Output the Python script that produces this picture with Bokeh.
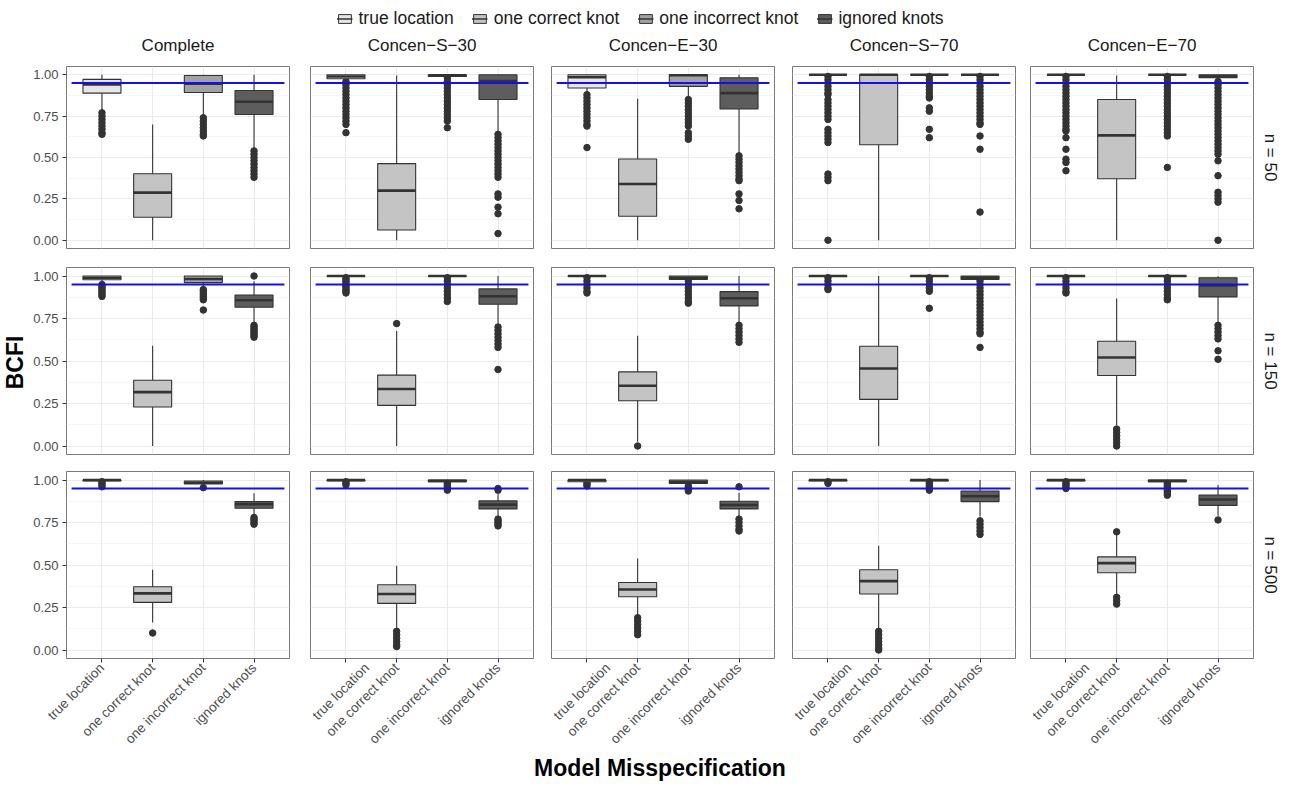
import math
from bokeh.plotting import figure
from bokeh.models import (FactorRange, Range1d, LinearAxis, CategoricalAxis, FixedTicker,
                          CategoricalTicker, Grid, Label, Legend, LegendItem,
                          ColumnDataSource, PrintfTickFormatter)
from bokeh.layouts import column, row
from bokeh.transform import dodge
from bokeh.embed import file_html
from bokeh.resources import INLINE

# ---------------------------------------------------------------- data
CATEGORIES = ["true location", "one correct knot", "one incorrect knot", "ignored knots"]
SCENARIOS = ["Complete", "Concen\u2212S\u221230", "Concen\u2212E\u221230",
             "Concen\u2212S\u221270", "Concen\u2212E\u221270"]
SAMPLE_SIZES = ["n = 50", "n = 150", "n = 500"]
Y_TICKS = [0.0, 0.25, 0.5, 0.75, 1.0]
Y_MINOR = [0.125, 0.375, 0.625, 0.875]
THRESHOLD = 0.95
FILLS = ["#E6E6E6", "#C4C4C4", "#A2A2A2", "#5D5D5D"]

# rows: scenarios (Complete, S-30, E-30, S-70, E-70); columns: categories
LOWER_N50 = [[0.78, 0.00, 0.755, 0.553], [0.965, 0.00, 0.985, 0.654], [0.885, 0.00, 0.855, 0.519],
             [1.00, 0.00, 1.00, 1.00], [1.00, 0.00, 1.00, 0.965]]
Q1_N50 = [[0.889, 0.139, 0.893, 0.760], [0.976, 0.062, 0.990, 0.851], [0.920, 0.145, 0.930, 0.793],
          [1.00, 0.577, 1.00, 1.00], [1.00, 0.372, 1.00, 0.982]]
MED_N50 = [[0.942, 0.288, 0.946, 0.837], [0.990, 0.300, 0.997, 0.962], [0.986, 0.340, 0.997, 0.889],
           [1.00, 1.00, 1.00, 1.00], [1.00, 0.634, 1.00, 0.990]]
Q3_N50 = [[0.972, 0.402, 0.996, 0.905], [1.00, 0.463, 1.00, 1.00], [1.00, 0.491, 1.00, 0.982],
          [1.00, 1.00, 1.00, 1.00], [1.00, 0.851, 1.00, 1.00]]
UPPER_N50 = [[1.00, 0.70, 1.00, 1.00], [1.00, 0.996, 1.00, 1.00], [1.00, 0.855, 1.00, 1.00],
             [1.00, 1.00, 1.00, 1.00], [1.00, 0.996, 1.00, 1.00]]

LOWER_N150 = [[0.959, 0.00, 0.926, 0.72], [1.00, 0.00, 1.00, 0.71], [1.00, 0.025, 0.975, 0.724],
              [1.00, 0.00, 1.00, 0.978], [1.00, 0.123, 1.00, 0.72]]
Q1_N150 = [[0.978, 0.229, 0.961, 0.816], [0.998, 0.239, 0.998, 0.834], [0.998, 0.266, 0.980, 0.824],
           [0.998, 0.274, 0.998, 0.980], [0.998, 0.415, 0.998, 0.877]]
MED_N150 = [[0.990, 0.317, 0.982, 0.857], [1.00, 0.335, 1.00, 0.881], [1.00, 0.354, 0.990, 0.869],
            [1.00, 0.456, 1.00, 0.990], [1.00, 0.521, 1.00, 0.945]]
Q3_N150 = [[1.00, 0.387, 1.00, 0.888], [1.00, 0.417, 1.00, 0.924], [1.00, 0.436, 1.00, 0.908],
           [1.00, 0.587, 1.00, 1.00], [1.00, 0.616, 1.00, 0.990]]
UPPER_N150 = [[1.00, 0.589, 1.00, 0.969], [1.00, 0.677, 1.00, 1.00], [1.00, 0.648, 1.00, 1.00],
              [1.00, 1.00, 1.00, 1.00], [1.00, 0.867, 1.00, 0.998]]

LOWER_N500 = [[0.995, 0.162, 0.959, 0.789], [0.995, 0.123, 0.988, 0.779], [0.990, 0.200, 0.975, 0.779],
              [0.995, 0.123, 0.995, 0.785], [0.995, 0.319, 0.985, 0.789]]
Q1_N500 = [[0.995, 0.280, 0.977, 0.834], [0.995, 0.274, 0.990, 0.830], [0.990, 0.313, 0.980, 0.830],
           [0.995, 0.329, 0.995, 0.873], [0.995, 0.454, 0.990, 0.851]]
MED_N500 = [[1.00, 0.333, 0.984, 0.857], [1.00, 0.329, 0.995, 0.855], [1.00, 0.356, 0.990, 0.853],
            [1.00, 0.405, 1.00, 0.904], [1.00, 0.511, 0.995, 0.885]]
Q3_N500 = [[1.00, 0.372, 0.994, 0.873], [1.00, 0.384, 1.00, 0.877], [1.00, 0.397, 1.00, 0.875],
           [1.00, 0.472, 1.00, 0.935], [1.00, 0.548, 1.00, 0.912]]
UPPER_N500 = [[1.00, 0.472, 1.00, 0.922], [1.00, 0.495, 1.00, 0.916], [1.00, 0.538, 1.00, 0.925],
              [1.00, 0.613, 1.00, 1.00], [1.00, 0.681, 1.00, 0.971]]

OUT_N50 = [
    [[0.77, 0.75, 0.73, 0.71, 0.69, 0.67, 0.65, 0.64], [],
     [0.74, 0.72, 0.70, 0.68, 0.66, 0.64, 0.63],
     [0.54, 0.52, 0.50, 0.48, 0.46, 0.44, 0.42, 0.40, 0.38]],
    [[0.96, 0.94, 0.92, 0.90, 0.88, 0.86, 0.84, 0.82, 0.80, 0.78, 0.76, 0.74, 0.72, 0.70, 0.65], [],
     [0.98, 0.96, 0.94, 0.92, 0.90, 0.88, 0.86, 0.84, 0.82, 0.80, 0.78, 0.76, 0.74, 0.72, 0.68],
     [0.64, 0.62, 0.60, 0.58, 0.56, 0.54, 0.52, 0.50, 0.48, 0.46, 0.44, 0.42, 0.40, 0.38,
      0.28, 0.26, 0.20, 0.16, 0.04]],
    [[0.88, 0.86, 0.84, 0.82, 0.80, 0.78, 0.76, 0.74, 0.72, 0.70, 0.69, 0.56], [],
     [0.85, 0.83, 0.81, 0.79, 0.77, 0.75, 0.73, 0.71, 0.69, 0.65, 0.63, 0.61],
     [0.51, 0.49, 0.47, 0.45, 0.43, 0.41, 0.39, 0.37, 0.36, 0.28, 0.24, 0.19]],
    [[0.99, 0.97, 0.95, 0.93, 0.91, 0.89, 0.88, 0.85, 0.83, 0.81, 0.79, 0.77, 0.75, 0.73,
      0.67, 0.65, 0.63, 0.61, 0.59, 0.40, 0.38, 0.36, 0.0], [],
     [0.99, 0.97, 0.95, 0.93, 0.91, 0.89, 0.87, 0.86, 0.80, 0.78, 0.67, 0.62],
     [0.99, 0.97, 0.95, 0.93, 0.91, 0.89, 0.87, 0.85, 0.83, 0.81, 0.79, 0.77, 0.75, 0.73,
      0.71, 0.70, 0.63, 0.55, 0.17]],
    [[0.99, 0.97, 0.95, 0.93, 0.91, 0.89, 0.87, 0.85, 0.83, 0.81, 0.79, 0.77, 0.75, 0.73,
      0.71, 0.69, 0.67, 0.66, 0.62, 0.55, 0.49, 0.47, 0.42], [],
     [0.99, 0.97, 0.95, 0.93, 0.91, 0.89, 0.87, 0.85, 0.83, 0.81, 0.79, 0.77, 0.75, 0.73,
      0.71, 0.69, 0.67, 0.65, 0.63, 0.44],
     [0.96, 0.94, 0.92, 0.90, 0.88, 0.86, 0.84, 0.82, 0.80, 0.78, 0.76, 0.74, 0.72, 0.70,
      0.68, 0.66, 0.64, 0.62, 0.60, 0.58, 0.56, 0.54, 0.52, 0.48, 0.39, 0.29, 0.27, 0.25, 0.23, 0.0]],
]
OUT_N150 = [
    [[0.95, 0.94, 0.93, 0.92, 0.91, 0.90, 0.89, 0.88], [],
     [0.92, 0.91, 0.90, 0.89, 0.88, 0.87, 0.86, 0.80],
     [1.00, 0.71, 0.70, 0.69, 0.68, 0.67, 0.66, 0.65, 0.64]],
    [[0.99, 0.98, 0.97, 0.96, 0.95, 0.94, 0.93, 0.92, 0.91, 0.90], [0.72],
     [0.99, 0.97, 0.95, 0.93, 0.91, 0.89, 0.87, 0.85],
     [0.70, 0.68, 0.66, 0.64, 0.62, 0.60, 0.58, 0.45]],
    [[0.99, 0.97, 0.95, 0.93, 0.91, 0.90], [0.0],
     [0.97, 0.95, 0.93, 0.91, 0.89, 0.87, 0.85, 0.84],
     [0.71, 0.69, 0.67, 0.65, 0.63, 0.61]],
    [[0.99, 0.97, 0.95, 0.93, 0.92], [],
     [0.99, 0.97, 0.95, 0.93, 0.91, 0.81],
     [0.97, 0.95, 0.93, 0.91, 0.89, 0.87, 0.85, 0.83, 0.81, 0.79, 0.77, 0.75, 0.73, 0.71,
      0.69, 0.67, 0.66, 0.58]],
    [[0.99, 0.97, 0.95, 0.93, 0.91, 0.90], [0.10, 0.08, 0.06, 0.04, 0.02, 0.0],
     [0.99, 0.97, 0.95, 0.93, 0.91, 0.89, 0.87, 0.86],
     [0.71, 0.69, 0.67, 0.65, 0.63, 0.56, 0.51]],
]
OUT_N500 = [
    [[0.99, 0.98, 0.97, 0.96], [0.10], [0.955], [0.78, 0.77, 0.76, 0.75, 0.74]],
    [[0.99, 0.98, 0.97], [0.11, 0.09, 0.07, 0.05, 0.03, 0.02],
     [0.98, 0.97, 0.96, 0.95, 0.94], [0.95, 0.94, 0.77, 0.76, 0.75, 0.74, 0.73]],
    [[0.985, 0.975, 0.965], [0.19, 0.17, 0.15, 0.13, 0.11, 0.09],
     [0.965, 0.955, 0.945, 0.935], [0.96, 0.77, 0.75, 0.73, 0.71, 0.70]],
    [[0.99, 0.98], [0.11, 0.09, 0.07, 0.05, 0.03, 0.01, 0.0],
     [0.99, 0.98, 0.97, 0.96, 0.95, 0.94], [0.76, 0.74, 0.72, 0.70, 0.68]],
    [[0.99, 0.98, 0.97, 0.96, 0.95], [0.695, 0.31, 0.29, 0.27],
     [0.98, 0.97, 0.96, 0.95, 0.94, 0.93, 0.92, 0.91], [0.765]],
]

LOWER = [LOWER_N50, LOWER_N150, LOWER_N500]
Q1 = [Q1_N50, Q1_N150, Q1_N500]
MED = [MED_N50, MED_N150, MED_N500]
Q3 = [Q3_N50, Q3_N150, Q3_N500]
UPPER = [UPPER_N50, UPPER_N150, UPPER_N500]
OUTLIERS = [OUT_N50, OUT_N150, OUT_N500]

# ---------------------------------------------------------------- layout / style
FONT = "Liberation Sans"
LINE = "#333333"
BLUE = "#1010F0"
TOTAL_W = 1280
YLAB_W = 26
FRAME_W = 223
LEFT = [40, 1, 1, 1, 1]
RIGHT = [20, 17, 17, 14, 1]
FIG_W = [LEFT[i] + FRAME_W + RIGHT[i] for i in range(5)]
STRIP_W = TOTAL_W - YLAB_W - sum(FIG_W)
FRAME_H = [182, 187, 187]
TOP = [2, 1, 1]
BOTTOM = [18, 16, 96]
ROW_H = [TOP[i] + FRAME_H[i] + BOTTOM[i] for i in range(3)]
HEADER_H = 64
FOOTER_H = 781 - HEADER_H - sum(ROW_H)
BOX_W = 0.75
Y_RANGE = (-0.05, 1.05)
HALF_PAD = 0.6  # ggplot discrete expansion on each side

frame_left = []
acc = YLAB_W
for i in range(5):
    frame_left.append(acc + LEFT[i])
    acc += FIG_W[i]
frame_center = [fl + FRAME_W / 2 for fl in frame_left]


def bare(width, height, x_range, y_range, **kw):
    p = figure(width=width, height=height, x_range=x_range, y_range=y_range,
               x_axis_location=None, y_axis_location=None, toolbar_location=None,
               tools="", output_backend="svg", outline_line_color=None, **kw)
    p.center = []
    return p


def make_panel(r, c):
    p = figure(width=FIG_W[c], height=ROW_H[r],
               x_range=FactorRange(factors=CATEGORIES, range_padding=2 * (HALF_PAD - 0.5),
                                   range_padding_units="absolute"),
               y_range=Range1d(*Y_RANGE), x_axis_location=None, y_axis_location=None,
               toolbar_location=None, tools="", output_backend="svg",
               min_border_left=LEFT[c], min_border_right=RIGHT[c],
               min_border_top=TOP[r], min_border_bottom=BOTTOM[r])
    p.center = []
    p.outline_line_color = "#7A7A7A"
    p.outline_line_width = 1

    p.add_layout(Grid(dimension=1, ticker=FixedTicker(ticks=Y_TICKS, minor_ticks=Y_MINOR),
                      grid_line_color="#EBEBEB", grid_line_width=1.1,
                      minor_grid_line_color="#F4F4F4", minor_grid_line_width=0.8))
    p.add_layout(Grid(dimension=0, ticker=CategoricalTicker(),
                      grid_line_color="#EBEBEB", grid_line_width=1.1))

    if c == 0:
        ya = LinearAxis(ticker=FixedTicker(ticks=Y_TICKS),
                        formatter=PrintfTickFormatter(format="%.2f"),
                        major_tick_in=0, major_tick_out=4, minor_tick_line_color=None,
                        axis_line_color=None, major_tick_line_color=LINE,
                        major_label_text_font=FONT, major_label_text_font_size="13px",
                        major_label_text_color="#4D4D4D", major_label_standoff=4)
        p.add_layout(ya, "left")

    if r == 2:
        xa = CategoricalAxis(major_label_orientation=math.pi / 4,
                             major_tick_in=0, major_tick_out=4, axis_line_color=None,
                             major_tick_line_color=LINE, major_label_text_font=FONT,
                             major_label_text_font_size="13.5px",
                             major_label_text_color="#4D4D4D", major_label_standoff=3)
        p.add_layout(xa, "below")

    box = ColumnDataSource(dict(cat=CATEGORIES, lo=LOWER[r][c], q1=Q1[r][c], med=MED[r][c],
                                q3=Q3[r][c], hi=UPPER[r][c], fill=FILLS))
    ox, oy = [], []
    for cat, outs in zip(CATEGORIES, OUTLIERS[r][c]):
        ox += [cat] * len(outs)
        oy += outs
    out = ColumnDataSource(dict(cat=ox, y=oy))

    p.scatter(x="cat", y="y", source=out, size=6.5, fill_color=LINE, line_color=LINE)
    p.segment(x0="cat", x1="cat", y0="lo", y1="hi", source=box, line_color=LINE, line_width=1.1)
    p.vbar(x="cat", top="q3", bottom="q1", width=BOX_W, source=box, fill_color="fill",
           line_color=LINE, line_width=1.1)
    p.segment(x0=dodge("cat", -BOX_W / 2, range=p.x_range),
              x1=dodge("cat", BOX_W / 2, range=p.x_range),
              y0="med", y1="med", source=box, line_color=LINE, line_width=2.6)
    ref = ColumnDataSource(dict(a=[CATEGORIES[0]], b=[CATEGORIES[-1]], y=[THRESHOLD]))
    p.segment(x0=dodge("a", -HALF_PAD, range=p.x_range), x1=dodge("b", HALF_PAD, range=p.x_range),
              y0="y", y1="y", source=ref, line_color=BLUE, line_width=2.0, level="overlay")
    return p


def make_strip(r):
    p = bare(STRIP_W, ROW_H[r], Range1d(0, STRIP_W), Range1d(*Y_RANGE),
             min_border_left=0, min_border_right=0,
             min_border_top=TOP[r], min_border_bottom=BOTTOM[r])
    p.add_layout(Label(x=STRIP_W - 10, y=(Y_RANGE[0] + Y_RANGE[1]) / 2, text=SAMPLE_SIZES[r],
                       angle=-math.pi / 2, text_align="center", text_baseline="middle",
                       text_font=FONT, text_font_size="17px", text_color="#1A1A1A"))
    return p


# header: legend + column strip titles
header = bare(TOTAL_W, HEADER_H, Range1d(0, TOTAL_W), Range1d(HEADER_H, 0), min_border=0)
items = []
for i, (cat, fill) in enumerate(zip(CATEGORIES, FILLS)):
    src = ColumnDataSource(dict(x=[frame_center[0]], y0=[Q1[0][0][i]], y1=[Q3[0][0][i]],
                                ym=[MED[0][0][i]]))
    b = header.vbar(x="x", top="y1", bottom="y0", width=1, source=src, fill_color=fill,
                    line_color=LINE, line_width=1, visible=False)
    m = header.segment(x0="x", x1="x", y0="ym", y1="ym", source=src, line_color=LINE,
                       line_width=1.6, visible=False)
    items.append(LegendItem(label=cat, renderers=[b, m]))
leg = Legend(items=items, orientation="horizontal", location="top_center", margin=8,
             label_text_font=FONT, label_text_font_size="17.5px", label_text_color="#1A1A1A",
             glyph_width=16, glyph_height=11, label_standoff=6, spacing=18,
             padding=0, border_line_color=None, background_fill_alpha=0,
             label_height=20, inactive_fill_alpha=0)
header.add_layout(leg)
for c in range(5):
    header.add_layout(Label(x=frame_center[c], y=45, text=SCENARIOS[c], text_align="center",
                            text_baseline="middle", text_font=FONT, text_font_size="17px",
                            text_color="#1A1A1A"))

# y axis title spanning all panel rows
ylab = bare(YLAB_W, sum(ROW_H), Range1d(0, YLAB_W), Range1d(sum(ROW_H), 0), min_border=0)
ylab.add_layout(Label(x=14, y=(TOP[0] + sum(ROW_H) - BOTTOM[2]) / 2, text="BCFI",
                      angle=math.pi / 2, text_align="center", text_baseline="middle",
                      text_font=FONT, text_font_size="23px", text_font_style="bold",
                      text_color="black"))

# footer: x axis title
footer = bare(TOTAL_W, FOOTER_H, Range1d(0, TOTAL_W), Range1d(FOOTER_H, 0), min_border=0)
footer.add_layout(Label(x=(frame_left[0] + frame_left[4] + FRAME_W) / 2, y=FOOTER_H / 2,
                        text="Model Misspecification", text_align="center",
                        text_baseline="middle", text_font=FONT, text_font_size="23px",
                        text_font_style="bold", text_color="black"))

rows = [row(*[make_panel(r, c) for c in range(5)], make_strip(r)) for r in range(3)]
layout = column(header, row(ylab, column(*rows)), footer)

open("out.html", "w").write(file_html(layout, INLINE))
